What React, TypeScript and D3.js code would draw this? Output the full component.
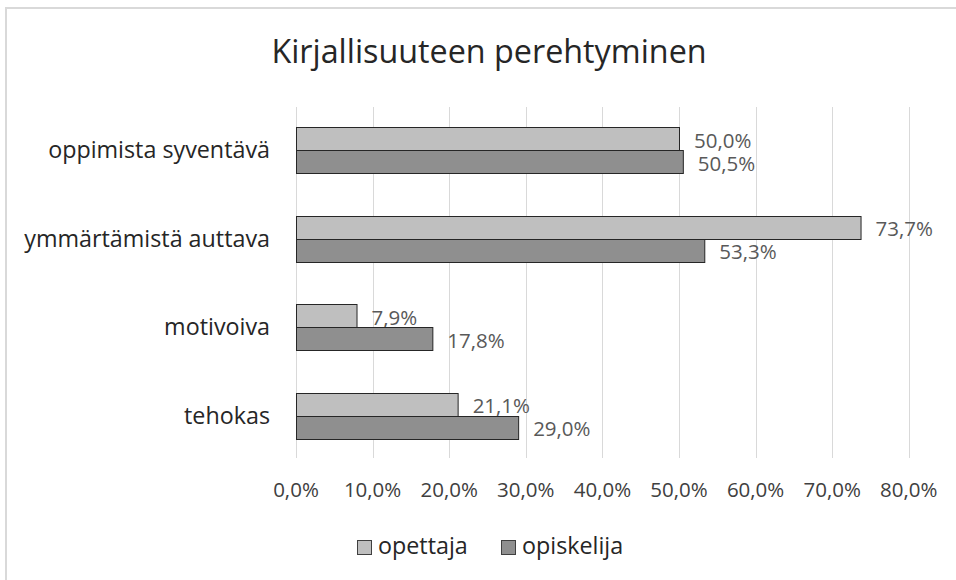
import React from "react";
import * as d3 from "d3";

const categories = ["oppimista syventävä", "ymmärtämistä auttava", "motivoiva", "tehokas"];
const seriesNames = ["opettaja", "opiskelija"];
const opettaja = [50.0, 73.7, 7.9, 21.1];
const opiskelija = [50.5, 53.3, 17.8, 29.0];
const xTicks = [0, 10, 20, 30, 40, 50, 60, 70, 80];
const title = "Kirjallisuuteen perehtyminen";

const W = 956;
const H = 580;
const FONT = "'Open Sans', 'Noto Sans', sans-serif";
const colors = ["#bfbfbf", "#8f8f8f"];
const fmt = (v: number) => v.toFixed(1).replace(".", ",") + "%";

export default function App() {
  const x = d3.scaleLinear().domain([0, 80]).range([296, 908.8]);
  const y = d3.scaleBand<string>().domain(categories).range([106, 460]).paddingInner(0.48).paddingOuter(0.24);
  const sub = d3.scaleBand<string>().domain(seriesNames).range([0, y.bandwidth()]);
  const values = [opettaja, opiskelija];

  return (
    <svg width={W} height={H} style={{ position: "absolute", left: 0, top: 0, background: "#fff" }} fontFamily={FONT}>
      <rect x={0} y={0} width={W} height={H} fill="#fff" />
      <line x1={5} x2={W} y1={8} y2={8} stroke="#d9d9d9" strokeWidth={2} />
      <line x1={6} x2={6} y1={7} y2={H} stroke="#d9d9d9" strokeWidth={2} />
      <text x={489} y={63} textAnchor="middle" fontSize={32.3} fill="#262626">{title}</text>
      {xTicks.map((t) => (
        <line key={"g" + t} x1={Math.round(x(t)) + 0.5} x2={Math.round(x(t)) + 0.5} y1={107} y2={458} stroke="#d9d9d9" strokeWidth={1} />
      ))}
      {xTicks.map((t) => (
        <text key={"t" + t} x={x(t)} y={497} textAnchor="middle" fontSize={20.5} fill="#404040">{fmt(t)}</text>
      ))}
      {categories.map((c, i) => (
        <g key={c}>
          <text x={270} y={(y(c) as number) + y.bandwidth() / 2 + 8} textAnchor="end" fontSize={23.3} fill="#262626">{c}</text>
          {seriesNames.map((s, j) => {
            const v = values[j][i];
            const top = (y(c) as number) + (sub(s) as number);
            return (
              <g key={s}>
                <rect x={x(0) + 0.5} y={Math.round(top) + 0.5} width={x(v) - x(0)} height={Math.round(sub.bandwidth())} fill={colors[j]} stroke="#262626" strokeWidth={1} />
                <text x={x(v) + 15} y={top + sub.bandwidth() / 2 + 9} fontSize={20.5} fill="#595959">{fmt(v)}</text>
              </g>
            );
          })}
        </g>
      ))}
      {seriesNames.map((s, j) => {
        const lx = j === 0 ? 357 : 501;
        return (
          <g key={"l" + s}>
            <rect x={lx + 0.5} y={540.5} width={14} height={14} fill={colors[j]} stroke="#404040" strokeWidth={1} />
            <text x={lx + 21} y={554} fontSize={23.3} fill="#262626">{s}</text>
          </g>
        );
      })}
    </svg>
  );
}
